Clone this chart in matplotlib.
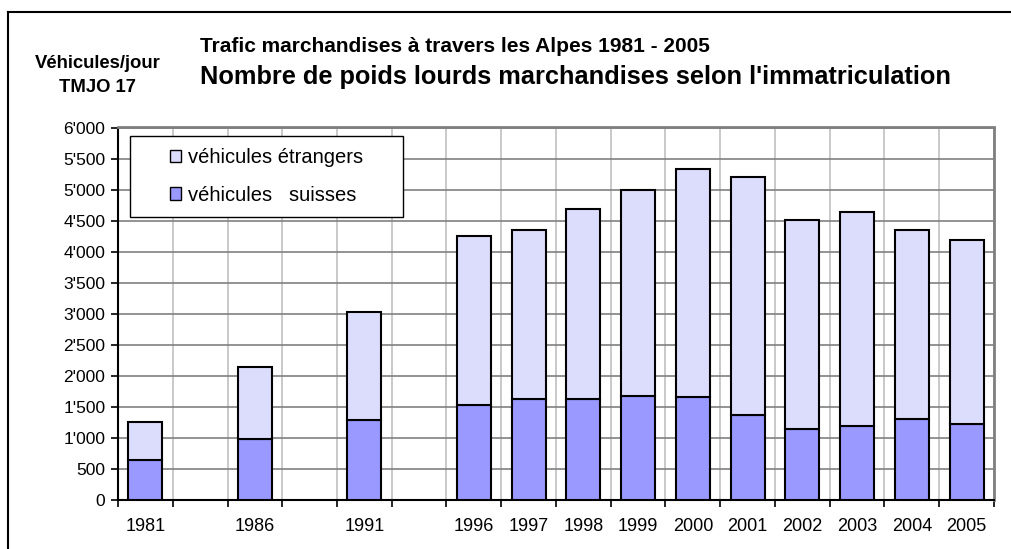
import matplotlib
matplotlib.use("Agg")
import matplotlib.pyplot as plt
import numpy as np
from matplotlib.patches import Rectangle
from matplotlib.lines import Line2D
from matplotlib.ticker import FuncFormatter, MultipleLocator

plt.rcParams['font.family'] = ['Liberation Sans', 'DejaVu Sans']

# categories, blanks are the empty slots between 1981, 1986, 1991 and 1996
categories = ['1981', '', '1986', '', '1991', '', '1996', '1997', '1998',
              '1999', '2000', '2001', '2002', '2003', '2004', '2005']
nan = np.nan
suisses = [640, nan, 980, nan, 1290, nan, 1530, 1630, 1630,
           1680, 1660, 1370, 1140, 1190, 1300, 1220]
etrangers = [610, nan, 1170, nan, 1740, nan, 2715, 2725, 3060,
             3320, 3670, 3830, 3370, 3445, 3055, 2975]

c_suisse = '#9999ff'
c_etr = '#dcdcfc'

W, H = 1012, 549
fig = plt.figure(figsize=(W / 100, H / 100), dpi=100)
ax = fig.add_axes([118 / W, 1 - 500 / H, (994 - 118) / W, (500 - 127.5) / H])

x = np.arange(len(categories))
s = np.array(suisses, dtype=float)
e = np.array(etrangers, dtype=float)
ax.bar(x, s, width=0.62, color=c_suisse, edgecolor='black', linewidth=1.5,
       zorder=3, label='véhicules   suisses')
ax.bar(x, e, bottom=s, width=0.62, color=c_etr, edgecolor='black',
       linewidth=1.5, zorder=3, label='véhicules étrangers')

ax.set_xlim(-0.5, len(categories) - 0.5)
ax.set_ylim(0, 6000)
ax.set_xticks(x)
ax.set_xticklabels(categories, fontsize=13)
ax.set_xticks(np.arange(len(categories) + 1) - 0.5, minor=True)
ax.tick_params(axis='x', which='major', length=0, pad=13)
ax.tick_params(axis='x', which='minor', length=5, width=1.2, color='black')
ax.yaxis.set_major_locator(MultipleLocator(500))
ax.yaxis.set_major_formatter(FuncFormatter(lambda v, p: f"{int(v):,}".replace(',', "'")))
ax.tick_params(axis='y', length=5, width=1.2, labelsize=12.5, pad=4)

ax.grid(axis='y', which='major', color='#808080', linewidth=1.2, zorder=0)
ax.grid(axis='x', which='minor', color='#c0c0c0', linewidth=1.2, zorder=0)
ax.set_axisbelow(True)

for side in ['left', 'bottom']:
    ax.spines[side].set_color('black')
    ax.spines[side].set_linewidth(1.5)
for side in ['top', 'right']:
    ax.spines[side].set_color('#808080')
    ax.spines[side].set_linewidth(2)

# legend box
fig.patches.append(Rectangle((130 / W, 1 - 217 / H), (403 - 130) / W, (217 - 136) / H,
                             transform=fig.transFigure, facecolor='white',
                             edgecolor='black', linewidth=1, zorder=4))
h, l = ax.get_legend_handles_labels()
leg = fig.legend(h[::-1], l[::-1], loc='center',
                 bbox_to_anchor=((130 + 403) / 2 / W, 1 - (136 + 217) / 2 / H),
                 frameon=False, fontsize=14.5, handlelength=0.55, handleheight=0.55,
                 handletextpad=0.35, labelspacing=0.9, borderpad=0)
leg.set_zorder(5)
for p in leg.get_patches():
    p.set_linewidth(1)

# titles
fig.text(200 / W, 1 - 46 / H, 'Trafic marchandises à travers les Alpes 1981 - 2005',
         fontsize=15, fontweight='bold', va='center', ha='left')
fig.text(200 / W, 1 - 77 / H, "Nombre de poids lourds marchandises selon l'immatriculation",
         fontsize=18.3, fontweight='bold', va='center', ha='left')
fig.text(98 / W, 1 - 63 / H, 'Véhicules/jour', fontsize=13.3, fontweight='bold',
         va='center', ha='center')
fig.text(98 / W, 1 - 88 / H, 'TMJO 17', fontsize=13.3, fontweight='bold',
         va='center', ha='center')

# outer frame
fig.add_artist(Line2D([8 / W, 1], [1 - 12 / H, 1 - 12 / H], transform=fig.transFigure,
                      color='black', linewidth=1.5))
fig.add_artist(Line2D([8 / W, 8 / W], [0, 1 - 12 / H], transform=fig.transFigure,
                      color='black', linewidth=1.5))

fig.savefig('out.png', dpi=100)
